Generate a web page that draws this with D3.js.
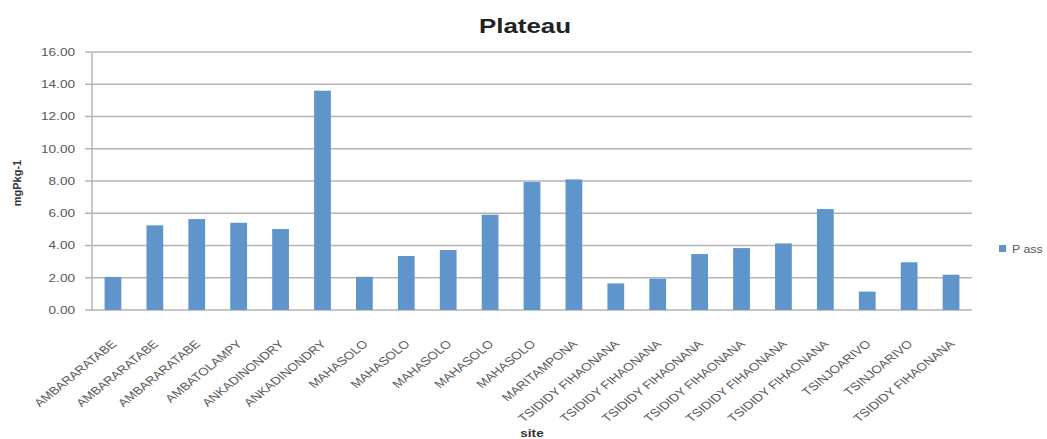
<!DOCTYPE html>
<html>
<head>
<meta charset="utf-8">
<script src="https://cdn.jsdelivr.net/npm/d3@7"></script>
<style>
  body { margin: 0; background: #fff; }
  svg { display: block; font-family: "Liberation Sans", Arial, sans-serif; }
</style>
</head>
<body>
<div id="chart"></div>
<script>
// sites along the x axis (order as in the chart)
const sites = [
    "AMBARARATABE", "AMBARARATABE", "AMBARARATABE", "AMBATOLAMPY",
    "ANKADINONDRY", "ANKADINONDRY", "MAHASOLO", "MAHASOLO", "MAHASOLO",
    "MAHASOLO", "MAHASOLO", "MARITAMPONA", "TSIDIDY FIHAONANA",
    "TSIDIDY FIHAONANA", "TSIDIDY FIHAONANA", "TSIDIDY FIHAONANA",
    "TSIDIDY FIHAONANA", "TSIDIDY FIHAONANA", "TSINJOARIVO", "TSINJOARIVO",
    "TSIDIDY FIHAONANA"
];
// P ass values (mgP kg-1)
const pAss = [
    2.05, 5.25, 5.64, 5.41, 5.02, 13.6, 2.06, 3.35, 3.72, 5.91, 7.94,
    8.10, 1.65, 1.94, 3.47, 3.84, 4.13, 6.26, 1.14, 2.96, 2.19
];
const yTicks = [0, 2, 4, 6, 8, 10, 12, 14, 16];
const seriesName = "P ass";

const width = 1047, height = 439;
const margin = { left: 92, right: 75, top: 52, bottom: 129 };
const sx = 1.235; // the picture is stretched horizontally
const barColor = "#6095cb";
const gridColor = "#b4b4b4";
const textColor = "#595959";

const svg = d3.select("#chart").append("svg")
    .attr("width", width)
    .attr("height", height);

const x = d3.scaleBand()
    .domain(d3.range(sites.length))
    .range([margin.left, width - margin.right])
    .paddingInner(0.6)
    .paddingOuter(0.3);

const y = d3.scaleLinear()
    .domain([0, 16])
    .range([height - margin.bottom, margin.top]);

// grid lines + tick marks
svg.append("g")
    .selectAll("line")
    .data(yTicks)
    .enter()
    .append("line")
    .attr("x1", margin.left - 7)
    .attr("x2", width - margin.right)
    .attr("y1", d => y(d))
    .attr("y2", d => y(d))
    .attr("stroke", gridColor)
    .attr("stroke-width", 1.5);

// y axis line
svg.append("line")
    .attr("x1", margin.left).attr("x2", margin.left)
    .attr("y1", y(16) + 1).attr("y2", y(0))
    .attr("stroke", gridColor)
    .attr("stroke-width", 1.5);

// y tick labels
svg.append("g")
    .selectAll("text")
    .data(yTicks)
    .enter()
    .append("text")
    .attr("transform", d => `translate(75,${y(d)}) scale(${sx},1)`)
    .attr("text-anchor", "end")
    .attr("dy", "0.35em")
    .attr("font-size", "11px")
    .attr("fill", textColor)
    .text(d => d3.format(".2f")(d));

// bars
svg.append("g")
    .selectAll("rect")
    .data(pAss)
    .enter()
    .append("rect")
    .attr("x", (d, i) => x(i))
    .attr("width", x.bandwidth())
    .attr("y", d => y(d))
    .attr("height", d => y(0) - y(d))
    .attr("fill", barColor);

// x labels, rotated
svg.append("g")
    .selectAll("text")
    .data(sites)
    .enter()
    .append("text")
    .attr("transform", (d, i) =>
        `translate(${x(i) + x.bandwidth() / 2 + 1},342) scale(${sx},1) rotate(-45)`)
    .attr("text-anchor", "end")
    .attr("dy", "0.35em")
    .attr("font-size", "11px")
    .attr("fill", textColor)
    .text(d => d);

// title
svg.append("text")
    .attr("transform", `translate(525,33) scale(${sx},1)`)
    .attr("text-anchor", "middle")
    .attr("font-size", "21px")
    .attr("font-weight", "bold")
    .attr("fill", "#222")
    .text("Plateau");

// axis titles
svg.append("text")
    .attr("transform", "translate(21,183) rotate(-90)")
    .attr("text-anchor", "middle")
    .attr("font-size", "11px")
    .attr("font-weight", "bold")
    .attr("fill", "#333")
    .text("mgPkg-1");

svg.append("text")
    .attr("transform", `translate(532,437) scale(${sx},1)`)
    .attr("text-anchor", "middle")
    .attr("font-size", "11px")
    .attr("font-weight", "bold")
    .attr("fill", "#333")
    .text("site");

// legend
const legend = svg.append("g").attr("transform", "translate(999,245)");
legend.append("rect")
    .attr("width", 7)
    .attr("height", 7)
    .attr("fill", barColor);
legend.append("text")
    .attr("transform", `translate(13,4) scale(${sx},1)`)
    .attr("dy", "0.35em")
    .attr("font-size", "10px")
    .attr("fill", textColor)
    .text(seriesName);
</script>
</body>
</html>
